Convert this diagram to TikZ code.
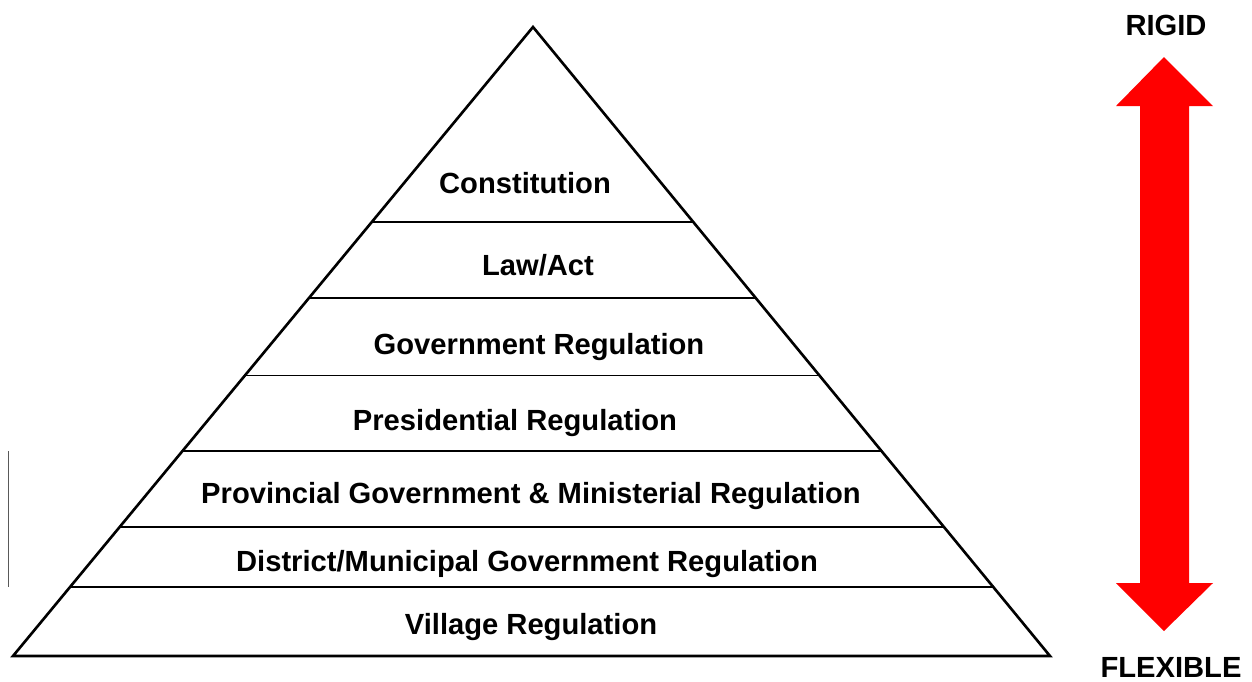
\documentclass[tikz,border=0pt]{standalone}
\usepackage{fontspec}
\setmainfont{Liberation Sans}
\usetikzlibrary{calc}
\tikzset{
  level/.style={font=\fontsize{16.6}{20}\selectfont\bfseries, inner sep=0pt},
  side/.style={font=\fontsize{16.6}{20}\selectfont\bfseries, inner sep=0pt}
}
\begin{document}
\begin{tikzpicture}[x=0.02cm, y=-0.02cm]
    \useasboundingbox (0,0) rectangle (1252,681);
    % pyramid
    \coordinate (apex) at (533,27);
    \coordinate (bl) at (13,656);
    \coordinate (br) at (1050,656);
    \draw[line width=1.5pt, line join=miter] (apex) -- (bl) -- (br) -- cycle;
    \foreach \t in {0.310,0.4308,0.5533,0.6741,0.7949,0.8903}
      \draw[line width=0.6pt] ($(apex)!\t!(bl)$) -- ($(apex)!\t!(br)$);
    \draw[gray!70!black, line width=0.5pt] (8,451) -- (8,587);
    % levels
    \node[level] (con) at (525,183) {Constitution};
    \node[level] (law) at (538,265) {Law/Act};
    \node[level] (gov) at (539,347) {Government Regulation};
    \node[level] (pres) at (515,423) {Presidential Regulation};
    \node[level] (prov) at (531,496) {Provincial Government \& Ministerial Regulation};
    \node[level] (dist) at (527,564) {District/Municipal Government Regulation};
    \node[level] (vil) at (531,627) {Village Regulation};
    % rigid / flexible
    \node[side] (rigid) at (1166,25) {RIGID};
    \node[side, anchor=base, text depth=0pt] (flex) at (1171,677) {FLEXIBLE};
    \fill[red] (1164,57) -- (1213,106) -- (1189,106) -- (1189,583) -- (1213,583)
      -- (1164,631) -- (1116,583) -- (1140,583) -- (1140,106) -- (1116,106) -- cycle;
\end{tikzpicture}
\end{document}
